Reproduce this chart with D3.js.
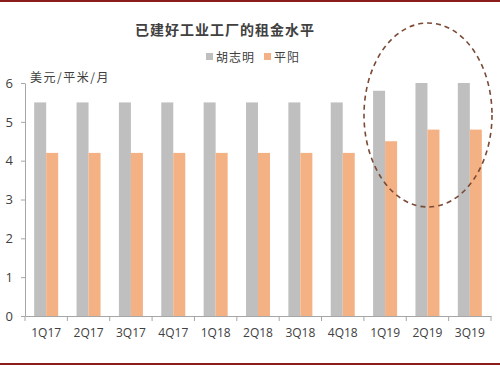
<!DOCTYPE html>
<meta charset="utf-8">
<script src="https://d3js.org/d3.v7.min.js"></script>
<style>
  body { margin: 0; background: #fff; }
  text { fill: #404040; }
</style>
<div id="chart"></div>
<script>

var quarters = ["1Q17", "2Q17", "3Q17", "4Q17", "1Q18", "2Q18", "3Q18", "4Q18", "1Q19", "2Q19", "3Q19"];
var hcmRent = [5.5, 5.5, 5.5, 5.5, 5.5, 5.5, 5.5, 5.5, 5.8, 6.0, 6.0];
var binhDuongRent = [4.2, 4.2, 4.2, 4.2, 4.2, 4.2, 4.2, 4.2, 4.5, 4.8, 4.8];
var seriesNames = ["胡志明", "平阳"];
var yTicks = [0, 1, 2, 3, 4, 5, 6];

var W = 500, H = 366;
var margin = {top: 83, right: 9, bottom: 50, left: 25};
var width = W - margin.left - margin.right,
    height = H - margin.top - margin.bottom;

var color = d3.scaleOrdinal().domain(seriesNames).range(["#bfbfbf", "#f4b183"]);
var cjk = "'Noto Sans CJK SC', sans-serif";
var latin = "'Open Sans', 'Liberation Sans', sans-serif";

var svg = d3.select("#chart").append("svg")
    .attr("width", W)
    .attr("height", H);

// frame lines top and bottom
svg.append("line").attr("x1", 0).attr("x2", W).attr("y1", 1).attr("y2", 1)
    .attr("stroke", "#8b1c1c").attr("stroke-width", 2);
svg.append("line").attr("x1", 0).attr("x2", W).attr("y1", 364).attr("y2", 364)
    .attr("stroke", "#8b1c1c").attr("stroke-width", 2);

var g = svg.append("g").attr("transform", "translate(" + margin.left + "," + margin.top + ")");

var x0 = d3.scaleBand().domain(quarters).range([0, width]);
var x1 = d3.scaleBand().domain(seriesNames).range([x0.bandwidth() / 2 - 12, x0.bandwidth() / 2 + 12]);
var y = d3.scaleLinear().domain([0, 6]).range([height, 0]);

var rows = quarters.map(function(q, i) {
  return {key: q, values: [
    {name: seriesNames[0], value: hcmRent[i]},
    {name: seriesNames[1], value: binhDuongRent[i]}
  ]};
});

var slice = g.selectAll(".slice")
  .data(rows)
  .enter().append("g")
  .attr("transform", function(d) { return "translate(" + x0(d.key) + ",0)"; });

slice.selectAll("rect")
  .data(function(d) { return d.values; })
  .enter().append("rect")
    .attr("x", function(d) { return x1(d.name); })
    .attr("width", x1.bandwidth())
    .attr("y", function(d) { return y(d.value); })
    .attr("height", function(d) { return height - y(d.value); })
    .attr("fill", function(d) { return color(d.name); });

// axes
var xAxis = g.append("g")
  .attr("transform", "translate(0," + height + ")")
  .call(d3.axisBottom(x0).tickSizeOuter(0).tickSize(0).tickPadding(12));
xAxis.select(".domain").attr("stroke", "#a6a6a6");
xAxis.selectAll("text").style("font-family", latin).style("font-size", "12px").attr("fill", "#404040");

// band edge ticks
g.selectAll(".xtick")
  .data(quarters.concat(["end"]))
  .enter().append("line")
    .attr("x1", function(d, i) { return i * x0.bandwidth(); })
    .attr("x2", function(d, i) { return i * x0.bandwidth(); })
    .attr("y1", height)
    .attr("y2", height + 5)
    .attr("stroke", "#a6a6a6");

var yAxis = g.append("g")
  .call(d3.axisLeft(y).tickValues(yTicks).tickFormat(d3.format("d"))
    .tickSize(4).tickSizeOuter(0).tickPadding(8));
yAxis.select(".domain").attr("stroke", "#a6a6a6");
yAxis.selectAll("line").attr("stroke", "#a6a6a6");
yAxis.selectAll("text").style("font-family", latin).style("font-size", "13px").attr("fill", "#404040");

// title
svg.append("text")
  .attr("x", 225).attr("y", 35)
  .attr("text-anchor", "middle")
  .style("font-family", cjk)
  .style("font-size", "14px")
  .style("font-weight", "bold")
  .style("letter-spacing", "1px")
  .text("已建好工业工厂的租金水平");

// unit label
svg.append("text")
  .attr("x", 30).attr("y", 82)
  .style("font-family", cjk)
  .style("font-size", "12px")
  .style("letter-spacing", "1.5px")
  .text("美元/平米/月");

// legend
var legendX = [206, 264];
var legend = svg.selectAll(".legend")
  .data(seriesNames)
  .enter().append("g")
  .attr("transform", function(d, i) { return "translate(" + legendX[i] + ",57)"; });
legend.append("rect")
  .attr("x", 0).attr("y", -4).attr("width", 7).attr("height", 7)
  .attr("fill", function(d) { return color(d); });
legend.append("text")
  .attr("x", 10).attr("y", 4.5)
  .style("font-family", cjk)
  .style("font-size", "12px")
  .style("letter-spacing", "1px")
  .text(function(d) { return d; });

// dashed highlight ellipse
svg.append("ellipse")
  .attr("cx", 428).attr("cy", 115)
  .attr("rx", 64).attr("ry", 92)
  .attr("fill", "none")
  .attr("stroke", "#7a4a35")
  .attr("stroke-width", 1.6)
  .attr("stroke-dasharray", "5,4");

</script>
